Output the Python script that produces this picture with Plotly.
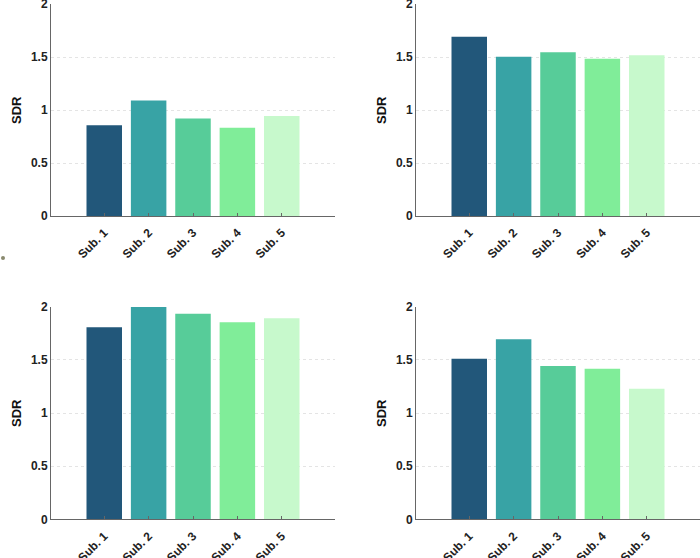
import plotly.graph_objects as go

categories = ["Sub. 1", "Sub. 2", "Sub. 3", "Sub. 4", "Sub. 5"]
sdr_top_left = [0.855, 1.09, 0.92, 0.833, 0.943]
sdr_top_right = [1.69, 1.503, 1.544, 1.484, 1.516]
sdr_bottom_left = [1.806, 1.997, 1.934, 1.853, 1.891]
sdr_bottom_right = [1.511, 1.693, 1.442, 1.417, 1.229]
bar_colors = ["#22577A", "#38A3A5", "#57CC99", "#80ED99", "#C7F9CC"]
y_ticks = [0, 0.5, 1, 1.5, 2]
y_ticktext = ["0", "0.5", "1", "1.5", "2"]

W, H = 700, 558
panels = [
    (sdr_top_left, (51 / W, 335 / W), ((H - 216) / H, (H - 4) / H)),
    (sdr_top_right, (416 / W, 1.0), ((H - 216) / H, (H - 4) / H)),
    (sdr_bottom_left, (51 / W, 335 / W), ((H - 519.3) / H, (H - 306.7) / H)),
    (sdr_bottom_right, (416 / W, 1.0), ((H - 519.3) / H, (H - 306.7) / H)),
]

FONT = "Liberation Sans, Arial, Helvetica, sans-serif"
fig = go.Figure()
layout = dict(
    width=W, height=H, margin=dict(l=0, r=0, t=0, b=0, autoexpand=False),
    paper_bgcolor="white", plot_bgcolor="white", showlegend=False,
    bargap=0.2, font=dict(family=FONT, color="#222222"),
)
annotations = []
for i, (vals, xd, yd) in enumerate(panels):
    n = "" if i == 0 else str(i + 1)
    fig.add_trace(go.Bar(
        x=categories, y=vals, marker=dict(color=bar_colors, line=dict(width=0)),
        xaxis="x" + n, yaxis="y" + n, hoverinfo="x+y",
    ))
    layout["xaxis" + n] = dict(
        domain=list(xd), anchor="y" + n, type="category", automargin=False,
        range=[-1.2, len(categories) - 1 + 1.2],
        showline=True, linecolor="#666666", linewidth=1,
        ticks="inside", ticklen=3, tickcolor="#666666",
        tickangle=-45, ticklabelstandoff=4, ticklabeloverflow="allow",
        tickfont=dict(size=12, weight="bold", family=FONT, color="#222222"),
        showgrid=False, zeroline=False, fixedrange=True,
    )
    layout["yaxis" + n] = dict(
        domain=list(yd), anchor="x" + n, range=[0, 2], automargin=False,
        tickvals=y_ticks, ticktext=y_ticktext, ticklabeloverflow="allow",
        showline=True, linecolor="#666666", linewidth=1,
        ticks="", tickfont=dict(size=12, weight="bold", family=FONT, color="#222222"),
        showgrid=True, gridcolor="#e4e4e4", griddash="dot", gridwidth=1,
        zeroline=False, fixedrange=True,
    )
    annotations.append(dict(
        text="SDR", textangle=-90, xref="paper", yref="paper",
        x=xd[0] - 34 / W, y=(yd[0] + yd[1]) / 2, xanchor="center", yanchor="middle",
        showarrow=False, font=dict(size=13, weight="bold", family=FONT, color="#111111"),
    ))
layout["annotations"] = annotations
layout["shapes"] = [dict(
    type="circle", xref="paper", yref="paper", xsizemode="pixel", ysizemode="pixel",
    xanchor=3 / W, yanchor=(H - 258) / H, x0=-2, x1=2, y0=-2, y1=2,
    fillcolor="#8a8a6e", line=dict(width=0),
)]
fig.update_layout(**layout)
fig.write_html("out.html")
